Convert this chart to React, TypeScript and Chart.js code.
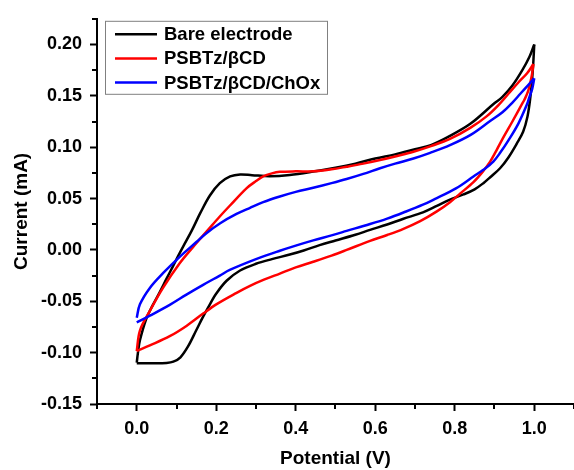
import React, { useEffect, useRef } from "react";
import { Chart, registerables } from "chart.js";

Chart.register(...registerables);

// ---- Data (Potential in V, Current in mA) ----
const seriesNames = ["Bare electrode", "PSBTz/βCD", "PSBTz/βCD/ChOx"];
const seriesColors = ["#000000", "#ff0000", "#0000ff"];

// Bare electrode
const bareFwdV = [0, 0.003, 0.008, 0.024, 0.04, 0.058, 0.075, 0.091, 0.104, 0.117, 0.138, 0.16, 0.184, 0.209, 0.235, 0.26, 0.29, 0.335, 0.385, 0.44, 0.5, 0.55, 0.6, 0.65, 0.7, 0.74, 0.788, 0.84, 0.8975, 0.92, 0.945, 0.97, 0.988, 1.0];
const bareFwdI = [-0.1098, -0.1, -0.088, -0.067, -0.054, -0.041, -0.028, -0.016, -0.006, 0.0035, 0.0185, 0.036, 0.053, 0.065, 0.0715, 0.0735, 0.0728, 0.0718, 0.073, 0.076, 0.08, 0.084, 0.089, 0.093, 0.098, 0.102, 0.111, 0.123, 0.142, 0.149, 0.16, 0.175, 0.188, 0.2];
const bareRevV = [1.0, 0.998, 0.995, 0.99, 0.983, 0.972, 0.956, 0.935, 0.914, 0.89, 0.872, 0.85, 0.822, 0.788, 0.755, 0.72, 0.671, 0.63, 0.587, 0.55, 0.5, 0.46, 0.42, 0.385, 0.34, 0.3, 0.26, 0.226, 0.2, 0.184, 0.167, 0.15, 0.129, 0.11, 0.092, 0.075, 0.04, 0];
const bareRevI = [0.2, 0.185, 0.168, 0.148, 0.13, 0.115, 0.1034, 0.09, 0.0795, 0.071, 0.065, 0.059, 0.054, 0.049, 0.0428, 0.0365, 0.0303, 0.0248, 0.0195, 0.0148, 0.0092, 0.0047, -0.0005, -0.0045, -0.009, -0.0135, -0.02, -0.03, -0.0425, -0.053, -0.065, -0.078, -0.094, -0.1045, -0.1088, -0.11, -0.1103, -0.1103];

// PSBTz/βCD
const redFwdV = [0, 0.008, 0.033, 0.066, 0.108, 0.142, 0.176, 0.21, 0.234, 0.276, 0.3, 0.318, 0.34, 0.36, 0.4, 0.444, 0.49, 0.528, 0.57, 0.612, 0.65, 0.696, 0.74, 0.788, 0.84, 0.88, 0.91, 0.935, 0.96, 0.982, 0.998];
const redFwdI = [-0.0985, -0.0785, -0.0594, -0.037, -0.013, 0.003, 0.018, 0.033, 0.043, 0.06, 0.067, 0.0715, 0.0745, 0.076, 0.0765, 0.0765, 0.0785, 0.081, 0.084, 0.0875, 0.091, 0.0955, 0.101, 0.108, 0.119, 0.13, 0.141, 0.152, 0.163, 0.172, 0.181];
const redRevV = [0.998, 0.993, 0.985, 0.975, 0.969, 0.945, 0.923, 0.905, 0.889, 0.87, 0.847, 0.814, 0.788, 0.755, 0.713, 0.671, 0.63, 0.587, 0.528, 0.49, 0.444, 0.4, 0.36, 0.32, 0.285, 0.25, 0.2, 0.167, 0.125, 0.083, 0.033, 0];
const redRevI = [0.181, 0.168, 0.155, 0.146, 0.142, 0.125, 0.11, 0.097, 0.086, 0.076, 0.066, 0.055, 0.0465, 0.0375, 0.028, 0.0205, 0.0145, 0.0088, 0.0, -0.0055, -0.0115, -0.017, -0.023, -0.029, -0.035, -0.042, -0.053, -0.062, -0.074, -0.084, -0.093, -0.0985];

// PSBTz/βCD/ChOx
const blueFwdV = [0, 0.008, 0.033, 0.066, 0.108, 0.15, 0.176, 0.21, 0.251, 0.285, 0.318, 0.36, 0.4, 0.444, 0.49, 0.528, 0.57, 0.612, 0.65, 0.696, 0.738, 0.788, 0.84, 0.889, 0.92, 0.944, 0.965, 0.986, 1.0];
const blueFwdI = [-0.066, -0.053, -0.037, -0.0227, -0.0067, 0.0077, 0.0165, 0.026, 0.035, 0.041, 0.0465, 0.052, 0.0565, 0.0605, 0.065, 0.069, 0.074, 0.0795, 0.084, 0.089, 0.0945, 0.102, 0.112, 0.1255, 0.134, 0.143, 0.152, 0.161, 0.167];
const blueRevV = [1.0, 0.995, 0.988, 0.982, 0.96, 0.935, 0.915, 0.897, 0.872, 0.847, 0.814, 0.788, 0.755, 0.72, 0.671, 0.63, 0.587, 0.528, 0.49, 0.444, 0.4, 0.36, 0.3, 0.234, 0.209, 0.167, 0.125, 0.083, 0.033, 0];
const blueRevI = [0.167, 0.157, 0.149, 0.142, 0.123, 0.1066, 0.095, 0.086, 0.078, 0.0715, 0.0625, 0.0568, 0.0505, 0.044, 0.0364, 0.0305, 0.0252, 0.0185, 0.0142, 0.0093, 0.0042, -0.0008, -0.009, -0.0195, -0.025, -0.034, -0.0435, -0.0535, -0.064, -0.0706];

// Axis ticks
const xTicks = [0, 0.2, 0.4, 0.6, 0.8, 1.0];
const xMinorTicks = [-0.1, 0.1, 0.3, 0.5, 0.7, 0.9, 1.1];
const yTicks = [-0.15, -0.1, -0.05, 0, 0.05, 0.1, 0.15, 0.2];
const yMinorTicks = [-0.125, -0.075, -0.025, 0.025, 0.075, 0.125, 0.175, 0.225];

const FONT = "'Liberation Sans', Arial, sans-serif";

function pts(v: number[], i: number[]) {
  return v.map((x, k) => ({ x, y: i[k] }));
}

export default function App() {
  const ref = useRef<HTMLCanvasElement | null>(null);

  useEffect(() => {
    document.body.style.margin = "0";
    const canvas = ref.current;
    if (!canvas) return;

    const branches = [
      { s: 2, data: pts(blueFwdV, blueFwdI) },
      { s: 2, data: pts(blueRevV, blueRevI) },
      { s: 1, data: pts(redFwdV, redFwdI) },
      { s: 1, data: pts(redRevV, redRevI) },
      { s: 0, data: pts(bareFwdV, bareFwdI) },
      { s: 0, data: pts(bareRevV, bareRevI) },
    ];

    const minorTicks = {
      id: "minorTicks",
      afterDraw(chart: any) {
        const ctx = chart.ctx;
        const xs = chart.scales.x;
        const ys = chart.scales.y;
        ctx.save();
        ctx.strokeStyle = "#000";
        ctx.lineWidth = 2;
        ctx.beginPath();
        const ya = chart.chartArea.bottom;
        for (const v of xMinorTicks) {
          const p = Math.round(xs.getPixelForValue(v));
          ctx.moveTo(p, ya);
          ctx.lineTo(p, ya + 5);
        }
        const xa = chart.chartArea.left;
        for (const v of yMinorTicks) {
          const p = Math.round(ys.getPixelForValue(v));
          ctx.moveTo(xa, p);
          ctx.lineTo(xa - 5, p);
        }
        ctx.stroke();
        ctx.restore();
      },
    };

    const legendBox = {
      id: "legendBox",
      afterDraw(chart: any) {
        const ctx = chart.ctx;
        const { left, top } = chart.chartArea;
        const bx = left + 8;
        const by = top + 2;
        const bw = 222;
        const bh = 73;
        ctx.save();
        ctx.fillStyle = "#ffffff";
        ctx.fillRect(bx, by, bw, bh);
        ctx.strokeStyle = "#808080";
        ctx.lineWidth = 1;
        ctx.strokeRect(bx + 0.5, by + 0.5, bw, bh);
        ctx.font = `bold 18.5px ${FONT}`;
        ctx.textBaseline = "middle";
        ctx.textAlign = "left";
        seriesNames.forEach((name, k) => {
          const y = by + 13.5 + k * 24.1;
          ctx.strokeStyle = seriesColors[k];
          ctx.lineWidth = 2.5;
          ctx.beginPath();
          ctx.moveTo(bx + 10, y);
          ctx.lineTo(bx + 52, y);
          ctx.stroke();
          ctx.fillStyle = "#000";
          ctx.fillText(name, bx + 59, y + 1);
        });
        ctx.restore();
      },
    };

    const chart = new Chart(canvas, {
      type: "scatter",
      data: {
        datasets: branches.map((b) => ({
          label: seriesNames[b.s],
          data: b.data,
          showLine: true,
          borderColor: seriesColors[b.s],
          backgroundColor: seriesColors[b.s],
          borderWidth: 2.5,
          pointRadius: 0,
          pointHoverRadius: 0,
          tension: 0.35,
          fill: false,
        })),
      },
      options: {
        animation: false,
        responsive: false,
        devicePixelRatio: 1,
        layout: { padding: { top: 13, right: 0, left: 0, bottom: 0 } },
        plugins: {
          legend: { display: false },
          tooltip: { enabled: false },
        },
        scales: {
          x: {
            type: "linear",
            min: -0.1,
            max: 1.1,
            afterBuildTicks: (s: any) => {
              s.ticks = xTicks.map((v) => ({ value: v }));
            },
            afterFit: (s: any) => {
              s.height = 66;
            },
            ticks: {
              color: "#000",
              font: { family: FONT, size: 18, weight: "bold" },
              padding: 7,
              maxRotation: 0,
              callback: (v: any) => Number(v).toFixed(1),
            },
            grid: {
              display: true,
              drawOnChartArea: false,
              drawTicks: true,
              tickLength: 7,
              tickWidth: 2,
              tickColor: "#000",
            },
            border: { display: true, color: "#000", width: 2 },
            title: {
              display: true,
              text: "Potential (V)",
              color: "#000",
              font: { family: FONT, size: 19, weight: "bold" },
              padding: { top: 0, bottom: 0 },
            },
          },
          y: {
            type: "linear",
            min: -0.15,
            max: 0.225,
            afterBuildTicks: (s: any) => {
              s.ticks = yTicks.map((v) => ({ value: v }));
            },
            afterFit: (s: any) => {
              s.width = 97;
            },
            ticks: {
              color: "#000",
              font: { family: FONT, size: 18, weight: "bold" },
              padding: 8,
              callback: (v: any) => Number(v).toFixed(2),
            },
            grid: {
              display: true,
              drawOnChartArea: false,
              drawTicks: true,
              tickLength: 7,
              tickWidth: 2,
              tickColor: "#000",
            },
            border: { display: true, color: "#000", width: 2 },
            title: {
              display: true,
              text: "Current (mA)",
              color: "#000",
              font: { family: FONT, size: 19, weight: "bold" },
              padding: { top: 10, bottom: 0 },
            },
          },
        },
      },
      plugins: [minorTicks, legendBox],
    });

    return () => {
      chart.destroy();
    };
  }, []);

  return (
    <div style={{ width: 574, height: 470, position: "relative", background: "#fff" }}>
      <canvas ref={ref} width={574} height={470} style={{ display: "block", width: 574, height: 470 }} />
    </div>
  );
}
